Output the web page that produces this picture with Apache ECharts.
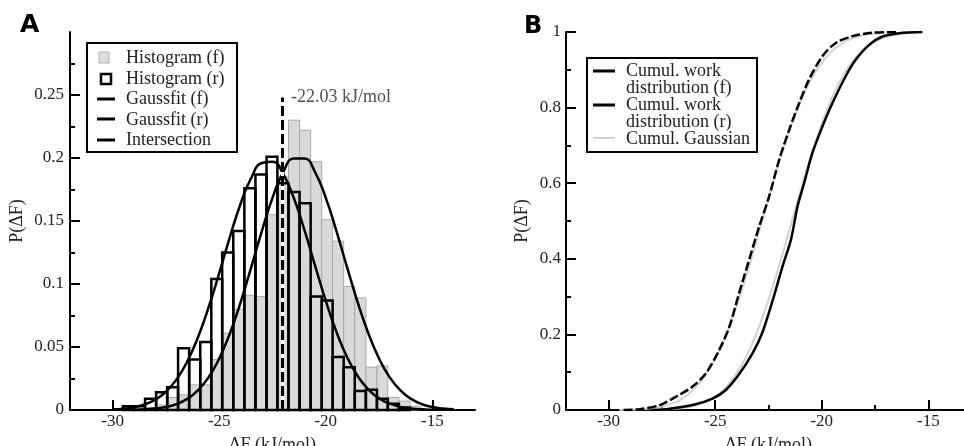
<!DOCTYPE html>
<html>
<head>
<meta charset="utf-8">
<script src="https://cdn.jsdelivr.net/npm/echarts@6/dist/echarts.min.js"></script>
<style>html,body{margin:0;padding:0;background:#fff}#c{width:964px;height:446px}</style>
</head>
<body>
<div id="c"></div>
<script>
// ---------- Panel A data ----------
const binEdges = [-29.52,-29.00,-28.48,-27.96,-27.44,-26.93,-26.41,-25.89,-25.37,-24.86,-24.34,-23.82,-23.30,-22.78,-22.27,-21.75,-21.23,-20.71,-20.19,-19.68,-19.16,-18.64,-18.12,-17.60,-17.09,-16.57,-16.05,-15.53];
const histF = [0,0,0.002,0.004,0.010,0.012,0.020,0.020,0.040,0.061,0.080,0.091,0.090,0.155,0.185,0.230,0.222,0.197,0.151,0.134,0.098,0.089,0.034,0.035,0.010,0.007,0.003];
const histR = [0.003,0.003,0.009,0.014,0.018,0.049,0.040,0.054,0.104,0.125,0.142,0.176,0.187,0.201,0.180,0.173,0.164,0.090,0.087,0.042,0.034,0.015,0.016,0.009,0.005,0.002,0];
const gaussX = [-30,-29.5,-29,-28.5,-28,-27.5,-27,-26.5,-26,-25.5,-25,-24.5,-24,-23.5,-23,-22.5,-22,-21.5,-21,-20.5,-20,-19.5,-19,-18.5,-18,-17.5,-17,-16.5,-16,-15.5,-15,-14.5,-14];
const gaussF = [0.0000,0.0001,0.0002,0.0005,0.0011,0.0024,0.0047,0.0088,0.0156,0.0259,0.0408,0.0607,0.0853,0.1132,0.1420,0.1684,0.1886,0.1996,0.1996,0.1886,0.1684,0.1420,0.1132,0.0853,0.0607,0.0408,0.0259,0.0156,0.0088,0.0047,0.0024,0.0011,0.0005];
const gaussR = [0.0005,0.0010,0.0022,0.0044,0.0082,0.0145,0.0243,0.0385,0.0576,0.0814,0.1087,0.1372,0.1635,0.1841,0.1960,0.1971,0.1873,0.1682,0.1427,0.1144,0.0866,0.0620,0.0419,0.0268,0.0162,0.0092,0.0050,0.0025,0.0012,0.0005,0.0002,0.0001,0.0000];
const intersectX = -22.03;
const intersectTop = 0.248;
const intersectLabel = '-22.03 kJ/mol';

// ---------- Panel B data ----------
const cumFX = [-28.0,-27.3,-26.06,-25.1,-24.5,-23.9,-23.25,-22.8,-22.3,-21.84,-21.45,-21.14,-20.83,-20.44,-19.97,-19.5,-18.88,-18.4,-17.78,-17.16,-16.38,-15.28];
const cumFY = [0,0.002,0.013,0.031,0.053,0.093,0.15,0.203,0.291,0.38,0.45,0.538,0.60,0.68,0.75,0.812,0.883,0.927,0.966,0.988,0.997,1.0];
const cumRX = [-29.3,-28.56,-27.6,-26.69,-26.06,-25.44,-24.81,-24.34,-23.88,-23.41,-22.94,-22.47,-22.0,-21.53,-21.06,-20.6,-19.97,-19.34,-18.56,-17.63,-16.5];
const cumRY = [0,0.002,0.013,0.04,0.062,0.097,0.159,0.22,0.309,0.397,0.485,0.565,0.662,0.741,0.812,0.874,0.936,0.971,0.989,0.998,1.0];
const cgFX = [-28,-27.5,-27,-26.5,-26,-25.5,-25,-24.5,-24,-23.5,-23,-22.5,-22,-21.5,-21,-20.5,-20,-19.5,-19,-18.5,-18,-17.5,-17,-16.5,-16,-15.5];
const cgFY = [0.0005,0.0011,0.0026,0.0054,0.0107,0.0202,0.036,0.0606,0.0968,0.1469,0.2119,0.2912,0.3821,0.4801,0.5793,0.6736,0.758,0.8289,0.8849,0.9265,0.9554,0.9744,0.9861,0.9929,0.9965,0.9984];
const cgRX = [-29.5,-29,-28.5,-28,-27.5,-27,-26.5,-26,-25.5,-25,-24.5,-24,-23.5,-23,-22.5,-22,-21.5,-21,-20.5,-20,-19.5,-19,-18.5,-18,-17.5,-17];
const cgRY = [0.0004,0.001,0.0022,0.0047,0.0094,0.0179,0.0322,0.0548,0.0885,0.1357,0.1977,0.2743,0.3632,0.4602,0.5596,0.6554,0.7422,0.8159,0.8749,0.9192,0.9505,0.9713,0.9842,0.9918,0.996,0.9981];

// ---------- Ticks ----------
const xTicks = [-30,-25,-20,-15];
const xMinorTicks = [-27.5,-22.5,-17.5];
const yTicksA = [0,0.05,0.1,0.15,0.2,0.25];
const yMinorA = [0.025,0.075,0.125,0.175,0.225,0.275];
const yTicksB = [0,0.2,0.4,0.6,0.8,1];
const yMinorB = [0.1,0.3,0.5,0.7,0.9];

const SERIF = '"Liberation Serif", "Times New Roman", serif';
const TXT = '#222';

const chart = echarts.init(document.getElementById('c'));

function zip(xs, ys){ return xs.map((x,i)=>[x, ys[i]]); }
function histItems(vals){ return vals.map((v,i)=>[binEdges[i], binEdges[i+1], v]).filter(d=>d[2]>0); }
function rectRender(fill, stroke, lw){
  return function(params, api){
    const a = api.coord([api.value(0), api.value(2)]);
    const b = api.coord([api.value(1), 0]);
    return {type:'rect', shape:{x:a[0], y:a[1], width:b[0]-a[0], height:b[1]-a[1]}, style:{fill:fill, stroke:stroke, lineWidth:lw}};
  };
}
const axisLineStyle = {color:'#000', width:2};
function xMain(g){
  return {type:'value', gridIndex:g, position:'bottom', min:-32, max:-13,
    axisLine:{show:true, onZero:false, lineStyle:axisLineStyle},
    axisTick:{show:true, inside:true, length:10, lineStyle:axisLineStyle, customValues:xTicks},
    axisLabel:{customValues:xTicks, color:TXT, fontFamily:SERIF, fontSize:17, margin:3},
    splitLine:{show:false},
    name:'ΔF (kJ/mol)', nameLocation:'middle', nameGap:26,
    nameTextStyle:{fontFamily:SERIF, fontSize:18, color:TXT}};
}
function xMinor(g){
  return {type:'value', gridIndex:g, position:'bottom', offset:0, min:-32, max:-13,
    axisLine:{show:false}, axisLabel:{show:false}, splitLine:{show:false},
    axisTick:{show:true, inside:true, length:5, lineStyle:axisLineStyle, customValues:xMinorTicks}};
}
function yMain(g, max, ticks, gap, margin){
  return {type:'value', gridIndex:g, position:'left', min:0, max:max,
    axisLine:{show:true, onZero:false, lineStyle:axisLineStyle},
    axisTick:{show:true, inside:true, length:10, lineStyle:axisLineStyle, customValues:ticks},
    axisLabel:{customValues:ticks, color:TXT, fontFamily:SERIF, fontSize:17, margin:margin},
    splitLine:{show:false},
    name:'P(ΔF)', nameLocation:'middle', nameGap:gap,
    nameTextStyle:{fontFamily:SERIF, fontSize:18, color:TXT}};
}
function yMinor(g, max, ticks){
  return {type:'value', gridIndex:g, position:'left', offset:0, min:0, max:max,
    axisLine:{show:false}, axisLabel:{show:false}, splitLine:{show:false},
    axisTick:{show:true, inside:true, length:5, lineStyle:axisLineStyle, customValues:ticks}};
}

const legFont = '18px "Liberation Serif"';
function legText(x, y, t){ return {type:'text', x:x, y:y, z:101, style:{text:t, font:legFont, fill:TXT, verticalAlign:'middle'}}; }

const option = {
  animation:false,
  backgroundColor:'#fff',
  grid:[
    {left:70, top:32, width:405, height:378, outerBoundsMode:'none', containLabel:false},
    {left:566, top:32, width:405, height:378, outerBoundsMode:'none', containLabel:false}
  ],
  xAxis:[xMain(0), xMinor(0), xMain(1), xMinor(1)],
  yAxis:[yMain(0, 0.3, yTicksA, 44, 6), yMinor(0, 0.3, yMinorA), yMain(1, 1, yTicksB, 35, 5), yMinor(1, 1, yMinorB)],
  series:[
    {type:'custom', name:'Histogram (f)', xAxisIndex:0, yAxisIndex:0, z:1, silent:true,
      renderItem:rectRender('#d9d9d9', '#a8a8a8', 1), encode:{x:[0,1], y:2}, data:histItems(histF)},
    {type:'custom', name:'Histogram (r)', xAxisIndex:0, yAxisIndex:0, z:2, silent:true,
      renderItem:rectRender('none', '#000', 2.5), encode:{x:[0,1], y:2}, data:histItems(histR)},
    {type:'line', name:'Gaussfit (f)', xAxisIndex:0, yAxisIndex:0, z:3, smooth:true, symbol:'none',
      lineStyle:{color:'#000', width:2.5}, data:zip(gaussX, gaussF)},
    {type:'line', name:'Gaussfit (r)', xAxisIndex:0, yAxisIndex:0, z:3, smooth:true, symbol:'none',
      lineStyle:{color:'#000', width:2.5}, data:zip(gaussX, gaussR)},
    {type:'line', xAxisIndex:0, yAxisIndex:0, z:4, symbol:'none',
      lineStyle:{color:'#fff', width:3}, data:[[intersectX,0],[intersectX,intersectTop]]},
    {type:'line', name:'Intersection', xAxisIndex:0, yAxisIndex:0, z:5, symbol:'none',
      lineStyle:{color:'#000', width:3, type:[10,4]}, data:[[intersectX,0],[intersectX,intersectTop]]},
    {type:'scatter', xAxisIndex:0, yAxisIndex:0, z:6, symbolSize:1, itemStyle:{color:'rgba(0,0,0,0)'},
      label:{show:true, position:'right', distance:8, formatter:intersectLabel, fontFamily:SERIF, fontSize:18, color:TXT},
      data:[[intersectX, intersectTop]]},
    {type:'line', name:'Cumul. Gaussian', xAxisIndex:2, yAxisIndex:2, z:2, smooth:true, symbol:'none',
      lineStyle:{color:'#d2d2d2', width:2}, data:zip(cgRX, cgRY)},
    {type:'line', xAxisIndex:2, yAxisIndex:2, z:2, smooth:true, symbol:'none',
      lineStyle:{color:'#d2d2d2', width:2}, data:zip(cgFX, cgFY)},
    {type:'line', name:'Cumul. work distribution (f)', xAxisIndex:2, yAxisIndex:2, z:3, smooth:0.3, symbol:'none',
      lineStyle:{color:'#000', width:2.5}, data:zip(cumFX, cumFY)},
    {type:'line', name:'Cumul. work distribution (r)', xAxisIndex:2, yAxisIndex:2, z:3, smooth:0.3, symbol:'none',
      lineStyle:{color:'#000', width:2.5, type:[9,3]}, data:zip(cumRX, cumRY)}
  ],
  graphic:[
    {type:'text', x:20, y:13, z:101, style:{text:'A', font:'bold 25px "DejaVu Sans"', fill:'#000'}},
    {type:'text', x:524, y:15, z:101, style:{text:'B', font:'bold 24px "DejaVu Sans"', fill:'#000'}},
    // legend A
    {type:'rect', z:100, shape:{x:87, y:43, width:150, height:109}, style:{fill:'#fff', stroke:'#000', lineWidth:2}},
    {type:'rect', z:101, shape:{x:99, y:52, width:10, height:11}, style:{fill:'#dcdcdc', stroke:'#b0b0b0', lineWidth:1}},
    {type:'rect', z:101, shape:{x:101, y:74, width:10, height:10}, style:{fill:'none', stroke:'#000', lineWidth:2.5}},
    {type:'line', z:101, shape:{x1:97, y1:99, x2:115, y2:99}, style:{stroke:'#000', lineWidth:3}},
    {type:'line', z:101, shape:{x1:97, y1:119, x2:115, y2:119}, style:{stroke:'#000', lineWidth:3}},
    {type:'line', z:101, shape:{x1:97, y1:140, x2:115, y2:140}, style:{stroke:'#000', lineWidth:3}},
    legText(126, 58, 'Histogram (f)'),
    legText(126, 79, 'Histogram (r)'),
    legText(126, 99, 'Gaussfit (f)'),
    legText(126, 120, 'Gaussfit (r)'),
    legText(126, 140, 'Intersection'),
    // legend B
    {type:'rect', z:100, shape:{x:587, y:58, width:170, height:94}, style:{fill:'#fff', stroke:'#000', lineWidth:2}},
    {type:'line', z:101, shape:{x1:593, y1:71, x2:615, y2:71}, style:{stroke:'#000', lineWidth:3}},
    {type:'line', z:101, shape:{x1:593, y1:105, x2:615, y2:105}, style:{stroke:'#000', lineWidth:3}},
    {type:'line', z:101, shape:{x1:593, y1:138, x2:615, y2:138}, style:{stroke:'#d2d2d2', lineWidth:2}},
    legText(626, 71, 'Cumul. work'),
    legText(626, 88, 'distribution (f)'),
    legText(626, 105, 'Cumul. work'),
    legText(626, 122, 'distribution (r)'),
    legText(626, 139, 'Cumul. Gaussian')
  ]
};
chart.setOption(option);
</script>
</body>
</html>
